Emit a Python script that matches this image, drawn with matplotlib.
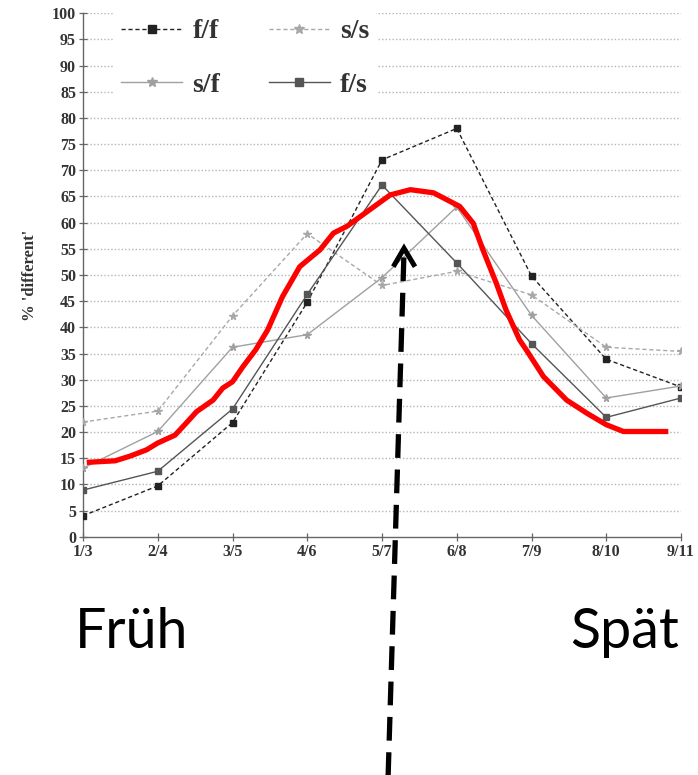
import matplotlib
matplotlib.use("Agg")
import matplotlib.pyplot as plt
from matplotlib.lines import Line2D

categories = ["1/3", "2/4", "3/5", "4/6", "5/7", "6/8", "7/9", "8/10", "9/11"]
ff = [4, 9.7, 21.8, 44.8, 72, 78, 49.8, 33.9, 28.6]
ss = [21.9, 24, 42.2, 57.9, 48, 50.7, 46.2, 36.2, 35.4]
sf = [13.1, 20.1, 36.2, 38.6, 49.5, 63, 42.3, 26.5, 28.8]
fs = [8.9, 12.5, 24.4, 46.3, 67.2, 52.3, 36.9, 22.8, 26.5]

# hand-drawn red curve (x in category-index units)
red_x = [0.05, 0.43, 0.63, 0.85, 1.0, 1.23, 1.38, 1.52, 1.74, 1.87, 2.0, 2.14, 2.31, 2.47,
         2.67, 2.90, 3.17, 3.35, 3.53, 3.80, 4.11, 4.38, 4.69, 5.04, 5.22, 5.35, 5.53,
         5.66, 5.84, 5.93, 6.16, 6.47, 6.74, 7.0, 7.23, 7.83]
red_y = [14.2, 14.5, 15.4, 16.6, 17.9, 19.4, 21.7, 23.9, 26.1, 28.4, 29.6, 32.5, 35.7, 39.5,
         45.9, 51.6, 54.8, 58.0, 59.3, 62.1, 65.3, 66.3, 65.7, 63.1, 59.9, 54.8, 48.4,
         43.3, 37.6, 35.7, 30.6, 26.1, 23.6, 21.4, 20.1, 20.1]

W, H = 698, 775
fig = plt.figure(figsize=(W / 100, H / 100), dpi=100)
ax = fig.add_axes([83 / W, 1 - 536.7 / H, (681 - 83) / W, (536.7 - 13.3) / H])

x = list(range(len(categories)))
serif = "Liberation Serif"

for yv in range(5, 101, 5):
    ax.axhline(yv, color="#b5b5b5", lw=1.0, ls=(0, (1, 1.5)), zorder=0)

l_ff, = ax.plot(x, ff, color="#222222", lw=1.0, ls=(0, (3, 2)), marker="s", ms=4, label="f/f", zorder=3)
l_ss, = ax.plot(x, ss, color="#a8a8a8", lw=1.0, ls=(0, (3, 2)), marker="*", ms=5.5, label="s/s", zorder=3)
l_sf, = ax.plot(x, sf, color="#a0a0a0", lw=1.0, ls="-", marker="*", ms=5.5, label="s/f", zorder=3)
l_fs, = ax.plot(x, fs, color="#555555", lw=1.0, ls="-", marker="s", ms=4, label="f/s", zorder=3)

ax.plot(red_x, red_y, color="#ff0000", lw=3.8, solid_capstyle="butt", zorder=5)

ax.set_xlim(0, 8)
ax.set_ylim(0, 100)
ax.set_xticks(x)
ax.set_xticklabels(categories)
ax.set_yticks(range(0, 101, 5))
for lab in ax.get_xticklabels() + ax.get_yticklabels():
    lab.set_fontfamily(serif)
    lab.set_fontweight("bold")
    lab.set_fontsize(11.5)
    lab.set_color("#333333")
ax.tick_params(axis="both", direction="inout", length=6, width=0.9, color="#666666", pad=2)
for s in ["top", "right"]:
    ax.spines[s].set_visible(False)
for s in ["left", "bottom"]:
    ax.spines[s].set_color("#666666")
    ax.spines[s].set_linewidth(1.0)

ax.set_ylabel("% 'different'", fontfamily=serif, fontweight="bold", fontsize=12, color="#333333", labelpad=10)

leg = ax.legend(handles=[l_ff, l_sf, l_ss, l_fs], ncol=2, loc="center",
                bbox_to_anchor=(0.271, 0.914), frameon=True, framealpha=1, edgecolor="none",
                facecolor="white", prop={"family": serif, "weight": "bold", "size": 20},
                handlelength=2.2, columnspacing=1.75, labelspacing=1.0, borderpad=0.3,
                handletextpad=0.36, markerscale=1.3)
for t in leg.get_texts():
    t.set_color("#333333")

# Labels below the chart
fig.text(75 / W, 1 - 648 / H, "Früh", fontfamily="Lato", fontsize=40, color="black", va="baseline", ha="left")
fig.text(679 / W, 1 - 648 / H, "Spät", fontfamily="Lato", fontsize=40, color="black", va="baseline", ha="right")

# dashed arrow
tail = (388 / W, 1 - 780 / H)
head = (404 / W, 1 - 252 / H)
arr = Line2D([tail[0], head[0]], [tail[1], head[1]], transform=fig.transFigure,
             color="black", lw=3.8, dashes=(4.5, 2.2), solid_capstyle="butt", dash_capstyle="butt", zorder=10)
fig.add_artist(arr)
chev = Line2D([393.3 / W, 404 / W, 415 / W], [1 - 266.7 / H, 1 - 248.3 / H, 1 - 266.7 / H],
              transform=fig.transFigure, color="black", lw=3.6, solid_joinstyle="miter",
              solid_capstyle="butt", zorder=10)
fig.add_artist(chev)

fig.savefig("out.png", dpi=100)
